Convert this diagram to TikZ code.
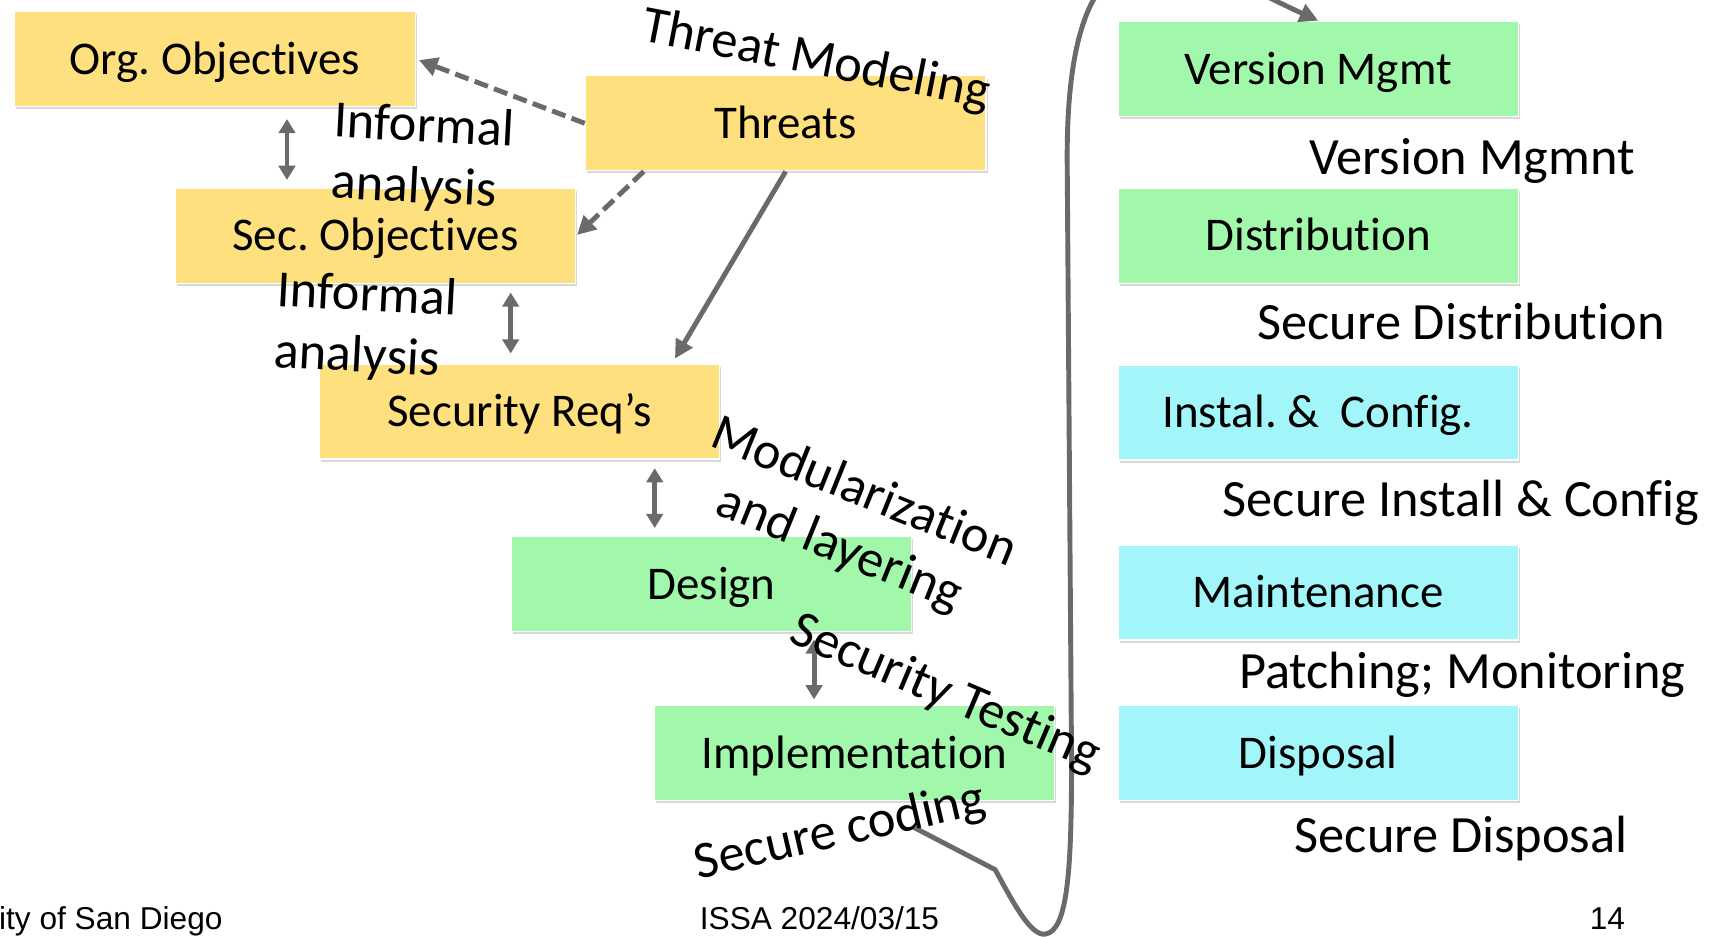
\documentclass[tikz,border=0pt]{standalone}
\usepackage{fontspec}
\setmainfont{Carlito}[Ligatures=NoCommon]
\newfontfamily\arialfont{Liberation Sans}
\usetikzlibrary{arrows.meta,shadows,positioning,calc}
\definecolor{objyellow}{HTML}{FFE07F}
\definecolor{devgreen}{HTML}{A2F8AA}
\definecolor{opscyan}{HTML}{A2F6FA}
\definecolor{linkgray}{HTML}{6A6A6A}
\newcommand{\stagefont}{\fontsize{43}{50}\selectfont}
\newcommand{\notefont}{\fontsize{48}{56}\selectfont}
\newcommand{\slidefoot}{\arialfont\fontsize{29}{34}\selectfont}
\newcommand{\nolig}{\kern0pt} % keeps t and i apart
\tikzset{
    stagebox/.style={draw=white, line width=1.2pt, minimum width=367pt, minimum height=87pt,
        inner sep=0pt, text height=34pt, text depth=6pt, font=\stagefont,
        drop shadow={shadow xshift=1.5pt, shadow yshift=-2.5pt, opacity=.3}},
    notetext/.style={font=\notefont, inner sep=0pt},
    flowlink/.style={linkgray, line width=4.5pt, -{Triangle[length=17pt,width=17pt]}},
    bothways/.style={linkgray, line width=4.5pt, {Triangle[length=13pt,width=15pt]}-{Triangle[length=13pt,width=15pt]}},
    dashflow/.style={flowlink, dash pattern=on 13pt off 6pt}
}
\begin{document}
\frenchspacing
\begin{tikzpicture}[x=1pt,y=-1pt]
\useasboundingbox (0,0) rectangle (1568,858); % slide area
\fill[white] (0,0) rectangle (1568,858); % background
\clip (0,0) rectangle (1568,858);
% requirements side
\node[stagebox, fill=objyellow] (Org) at (197,54) {Org. Objectives}; % organisation
\node[stagebox, fill=objyellow] (Threat) at (720,113) {Threats}; % threats
\node[stagebox, fill=objyellow] (SecObj) at (344,216) {Sec. Objectives}; % security objectives
\node[stagebox, fill=objyellow] (SecReq) at (476,377) {Security Req’s}; % requirements
\node[stagebox, fill=devgreen] (Des) at (652,535) {Design}; % design
\node[stagebox, fill=devgreen] (Impl) at (783,690) {Implementat\nolig ion}; % implementation
% deployment side
\node[stagebox, fill=devgreen] (Ver) at (1208,63) {Version Mgmt}; % versions
\node[stagebox, fill=devgreen] (Dist) at (1208,216) {Distribut\nolig ion}; % distribution
\node[stagebox, fill=opscyan] (Inst) at (1208,378) {Instal.\ \&\ \ Config.}; % install
\node[stagebox, fill=opscyan] (Maint) at (1208,543) {Maintenance}; % maintenance
\node[stagebox, fill=opscyan] (Disp) at (1208,690) {Disposal}; % disposal
% links between the stages
\draw[dashflow, shorten >=3pt] (Threat.west) -- (Org.east); % threats feed objectives
\draw[dashflow, shorten >=1pt] ([xshift=54pt]Threat.south west) -- (SecObj.east); % threats feed sec. objectives
\draw[flowlink, shorten >=5pt] (Threat.south) -- ([xshift=140pt]SecReq.north); % threats feed requirements
\draw[bothways, shorten <=11pt, shorten >=7pt] ([xshift=66pt]Org.south) -- ([xshift=66pt]Org.south |- SecObj.north); % org <-> sec
\draw[bothways, shorten <=8pt, shorten >=9pt] ([xshift=-8pt]SecReq.north |- SecObj.south) -- ([xshift=-8pt]SecReq.north); % sec <-> req
\draw[bothways, shorten <=8pt, shorten >=7pt] ([xshift=-52pt]Des.north |- SecReq.south) -- ([xshift=-52pt]Des.north); % req <-> design
\draw[bothways, shorten <=7pt, shorten >=5pt] ([xshift=-37pt]Impl.north |- Des.south) -- ([xshift=-37pt]Impl.north); % design <-> impl
% loop from coding over to version management
\coordinate (Tail) at (837,758); % start under the coding label
\coordinate (Kink) at (912,797); % bend before the dip
\draw[flowlink, line join=round] (Tail) -- (Kink)
    .. controls (930,830) and (945,858) .. (958,856)
    .. controls (978,853) and (982,800) .. (982,700)
    -- (978,150) .. controls (976,-120) and (1100,-30) .. (Ver.north); % up and over
% activities
\node[notetext, rotate=-11] (ThrMod) at (748,56) {Threat Modeling};
\node[notetext, rotate=-3, align=left] (InfA) at (387,145) {Informal\\analysis};
\node[notetext, rotate=-3, align=left] (InfB) at (335,300) {Informal\\analysis};
\node[notetext, rotate=-22, align=left] (ModLay) at (781,478) {Modularizat\nolig ion\\\hspace*{28pt}and layering};
\node[notetext, rotate=-23] (SecTest) at (866,636) {Security Testing};
\node[notetext, rotate=13] (SecCode) at (770,763) {Secure coding};
\node[notetext, anchor=base] (VerNote) at (1349,160) {Version Mgmnt};
\node[notetext, anchor=base] (DistNote) at (1339,311) {Secure Distribut\nolig ion};
\node[notetext, anchor=base] (InstNote) at (1339,473) {Secure Install \& Config};
\node[notetext, anchor=base] (MaintNote) at (1340,631) {Patching; Monitoring};
\node[notetext, anchor=base] (DispNote) at (1339,781) {Secure Disposal};
% footer
\node[font=\slidefoot, anchor=base west, inner sep=0pt] (Univ) at (-1,852) {ity of San Diego};
\node[font=\slidefoot, anchor=base, inner sep=0pt] (Event) at (751,852) {ISSA 2024/03/15};
\node[font=\slidefoot, anchor=base, inner sep=0pt] (Page) at (1473,852) {14};
\end{tikzpicture}
\end{document}
